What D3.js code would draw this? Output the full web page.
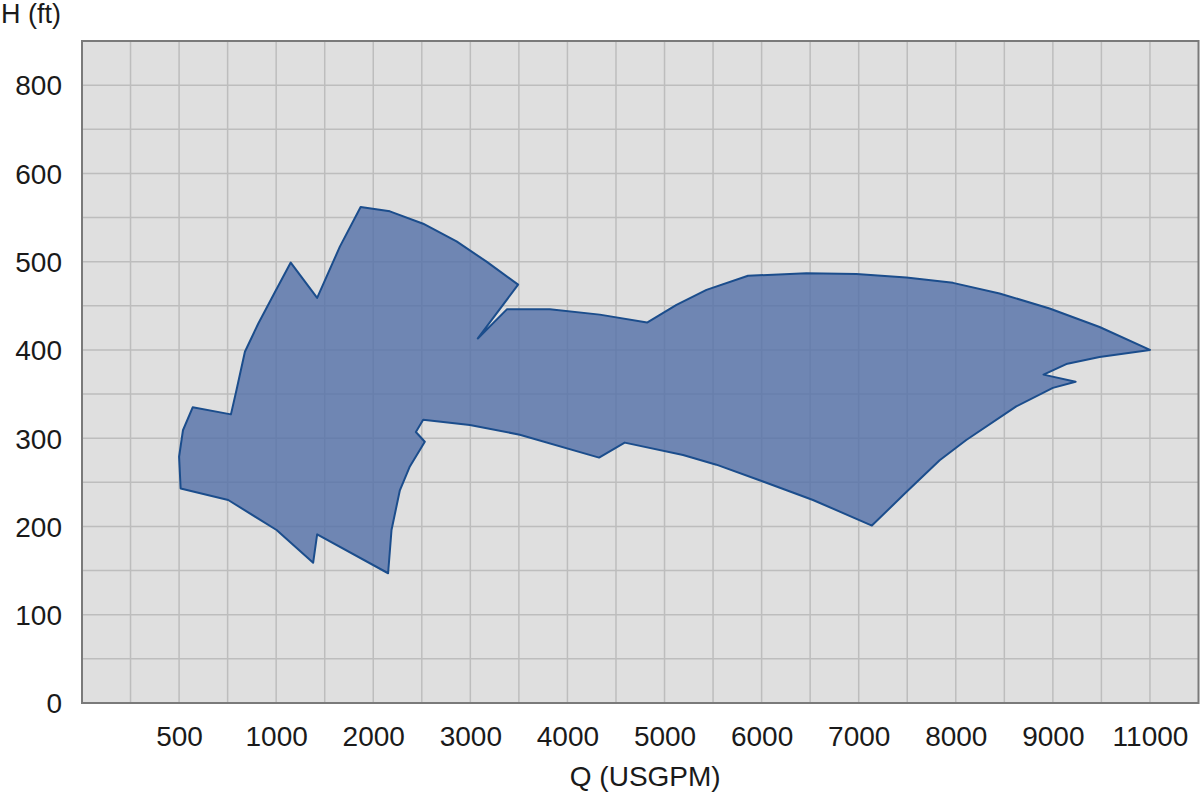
<!DOCTYPE html>
<html>
<head>
<meta charset="utf-8">
<script src="https://cdn.jsdelivr.net/npm/d3@7"></script>
<style>
  html, body { margin: 0; padding: 0; background: #ffffff; }
  svg { display: block; }
  text { font-family: "Liberation Sans", Arial, Helvetica, sans-serif; fill: #1a1a1a; }
</style>
</head>
<body>
<svg id="chart" width="1200" height="792"></svg>
<script>
// ---------- data ----------
// Axis breakpoints (the original axis is non-uniform: each labelled tick is equally spaced)
const xStops = [0, 500, 1000, 2000, 3000, 4000, 5000, 6000, 7000, 8000, 9000, 11000, 12000];
const xStopCells = [0, 2, 4, 6, 8, 10, 12, 14, 16, 18, 20, 22, 23];
const yStops = [0, 100, 200, 300, 400, 500, 600, 800, 900];
const yStopCells = [0, 2, 4, 6, 8, 10, 12, 14, 15];

const xTickLabels = [500, 1000, 2000, 3000, 4000, 5000, 6000, 7000, 8000, 9000, 11000];
const yTickLabels = [0, 100, 200, 300, 400, 500, 600, 800];
const xGridValues = [250, 500, 750, 1000, 1500, 2000, 2500, 3000, 3500, 4000, 4500, 5000, 5500,
                     6000, 6500, 7000, 7500, 8000, 8500, 9000, 10000, 11000];
const yGridValues = [50, 100, 150, 200, 250, 300, 350, 400, 450, 500, 550, 600, 700, 800];

// Operating range envelope: flow Q (USGPM), head H (ft)
const envQ = [508, 500, 520, 570, 767, 796, 839, 908, 985, 1150, 1422, 1656, 1870, 2171, 2514, 2858,
              3167, 3492, 3077, 3376, 3818, 4333, 4820, 5123, 5432, 5860, 6461, 6976, 7491, 7971,
              8451, 8966, 9962, 11000, 9962, 9276, 8904, 9468, 9000, 8623, 8108, 7834, 7491, 7136,
              6529, 6014, 5534, 5191, 4590, 4326, 3509, 2995, 2514, 2439, 2531, 2377, 2274, 2188,
              2153, 1422, 1381, 1004, 753];
const envH = [243, 279, 309, 335, 327, 355, 398, 430, 462, 499, 459, 517, 562, 557, 543, 523,
              500, 474, 413, 446, 446, 440, 431, 451, 468, 484, 487, 486, 482, 476,
              464, 447, 426, 400, 392, 384, 372, 364, 357, 336, 298, 275, 239, 201,
              230, 251, 270, 281, 295, 278, 304, 315, 321, 307, 296, 268, 241, 196,
              147, 191, 159, 196, 230];

const xTitle = "Q (USGPM)";
const yTitle = "H (ft)";

// ---------- layout ----------
const plot = { left: 82, right: 1198.5, top: 41, bottom: 703 };
const nxCells = 23, nyCells = 15;
const cw = (plot.right - plot.left) / nxCells;
const ch = (plot.bottom - plot.top) / nyCells;

const x = d3.scaleLinear().domain(xStops).range(xStopCells.map(c => plot.left + c * cw));
const y = d3.scaleLinear().domain(yStops).range(yStopCells.map(c => plot.bottom - c * ch));

const svg = d3.select("#chart");

// plot background
svg.append("rect")
  .attr("x", plot.left).attr("y", plot.top)
  .attr("width", plot.right - plot.left).attr("height", plot.bottom - plot.top)
  .attr("fill", "#dfdfdf");

// grid
const grid = svg.append("g").attr("stroke", "#bdbdbd").attr("stroke-width", 1.5);
grid.selectAll("line.v").data(xGridValues).join("line")
  .attr("x1", d => x(d)).attr("x2", d => x(d))
  .attr("y1", plot.top).attr("y2", plot.bottom);
grid.selectAll("line.h").data(yGridValues).join("line")
  .attr("y1", d => y(d)).attr("y2", d => y(d))
  .attr("x1", plot.left).attr("x2", plot.right);

// envelope polygon
const pts = envQ.map((q, i) => [q, envH[i]]);
const line = d3.line().x(d => x(d[0])).y(d => y(d[1])).curve(d3.curveLinearClosed);
svg.append("path")
  .attr("d", line(pts))
  .attr("fill", "#536fa8")
  .attr("fill-opacity", 0.8)
  .attr("stroke", "#1b4d8c")
  .attr("stroke-width", 2)
  .attr("stroke-linejoin", "round");

// frame
svg.append("rect")
  .attr("x", plot.left).attr("y", plot.top)
  .attr("width", plot.right - plot.left).attr("height", plot.bottom - plot.top)
  .attr("fill", "none").attr("stroke", "#7a7a7a").attr("stroke-width", 2);

// axes labels
const xAxis = d3.axisBottom(x).tickValues(xTickLabels).tickSize(0).tickPadding(0).tickFormat(d => String(d));
const gx = svg.append("g").attr("transform", `translate(0,${plot.bottom})`).call(xAxis);
gx.select(".domain").remove();
gx.selectAll("text")
  .attr("dy", null).attr("y", 43)
  .style("font-size", "28px")
  .style("font-family", '"Liberation Sans", Arial, sans-serif')
  .attr("fill", "#1a1a1a");

const yAxis = d3.axisLeft(y).tickValues(yTickLabels).tickSize(0).tickPadding(0).tickFormat(d => String(d));
const gy = svg.append("g").attr("transform", `translate(${plot.left},0)`).call(yAxis);
gy.select(".domain").remove();
gy.selectAll("text")
  .attr("x", -20).attr("dy", "0.35em")
  .style("font-size", "28px")
  .style("font-family", '"Liberation Sans", Arial, sans-serif')
  .attr("fill", "#1a1a1a");

// titles
svg.append("text")
  .attr("x", 1).attr("y", 23)
  .style("font-size", "27px")
  .text(yTitle);
svg.append("text")
  .attr("x", (plot.left + plot.right) / 2 + 5).attr("y", 786)
  .attr("text-anchor", "middle")
  .style("font-size", "28px")
  .text(xTitle);
</script>
</body>
</html>
